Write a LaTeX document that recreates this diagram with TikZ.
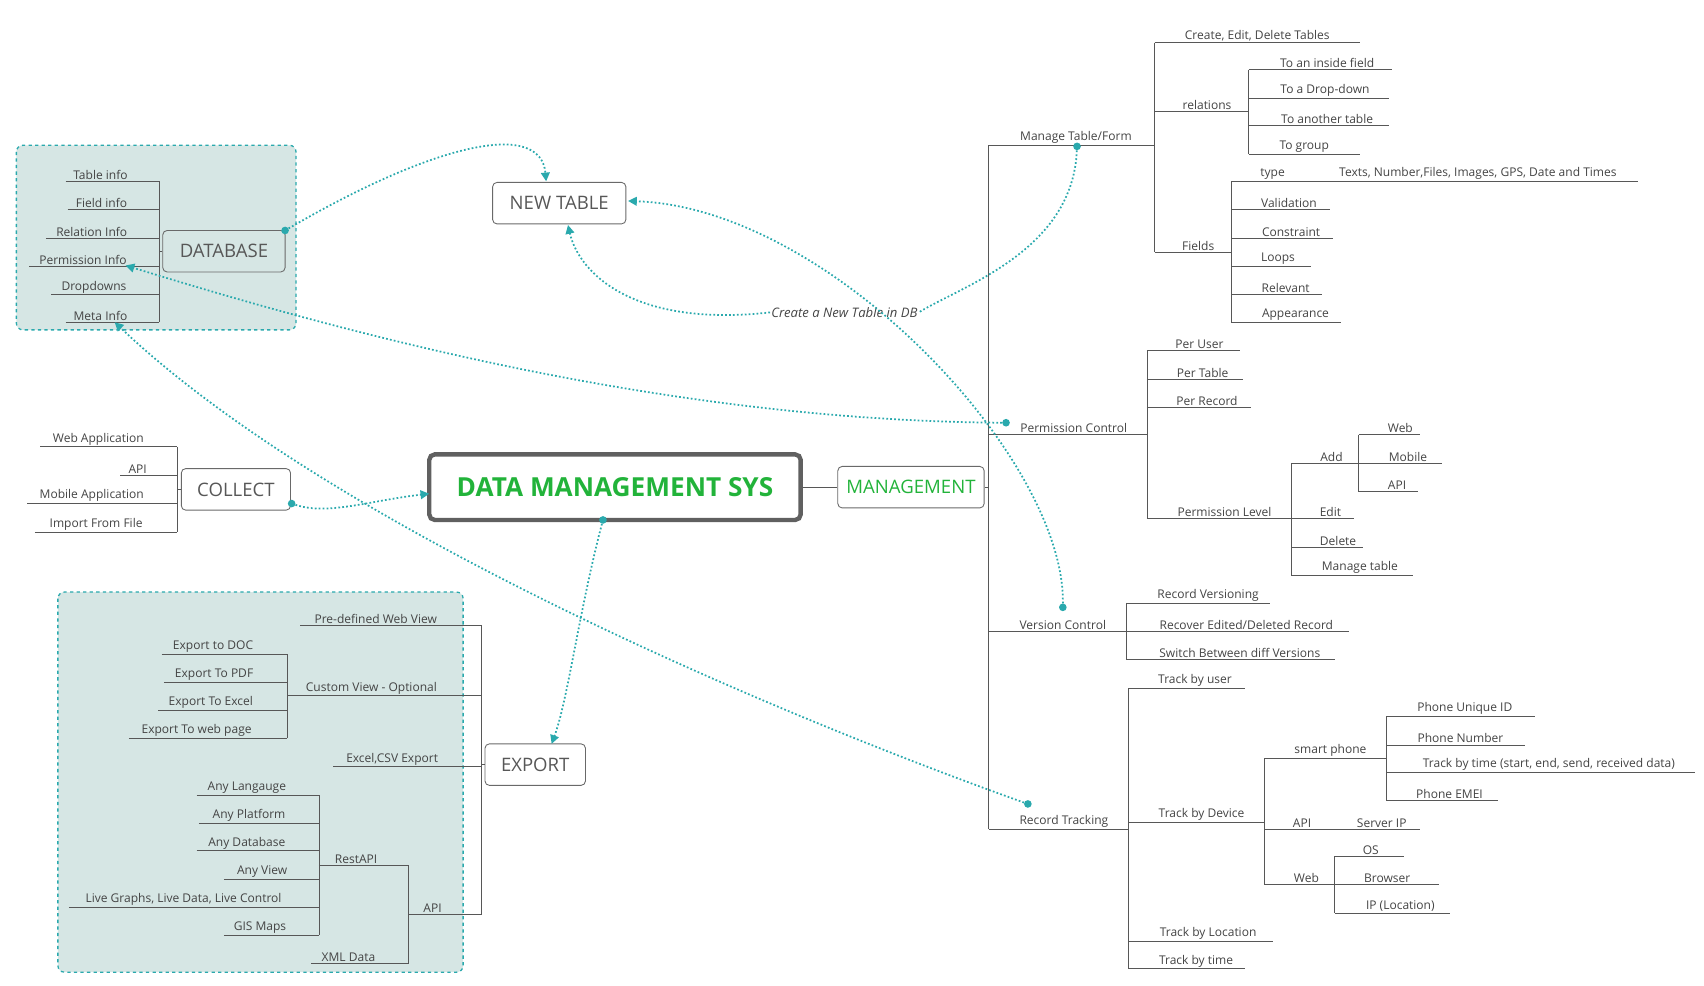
\documentclass[tikz,border=0pt]{standalone}
\usepackage{fontspec}
\setmainfont{Open Sans}
\usetikzlibrary{arrows.meta}
\definecolor{teal1}{HTML}{2AA9AD}
\definecolor{groupfill}{HTML}{D6E6E4}
\definecolor{ink}{HTML}{444444}
\definecolor{titlegreen}{HTML}{22B33A}
\tikzset{
  leaf/.style={anchor=south,inner sep=1.5pt,text=ink,font=\fontsize{11}{13}\selectfont},
  branch/.style={draw=ink!90,line width=0.8pt},
  topic/.style={draw=ink!80,rounded corners=4pt,line width=0.8pt,text=ink!90,
    font=\fontsize{17}{20}\selectfont,minimum height=38pt},
  group/.style={draw=teal1,fill=groupfill,dashed,line width=1.2pt,rounded corners=6pt},
  link/.style={draw=teal1,line width=1.6pt,dotted,-{Triangle[length=8pt,width=8pt]}},
  dot/.style={circle,fill=teal1,inner sep=0pt,minimum size=7pt}
}
% name, text x, underline y, line from, line to, text
\newcommand\tleaf[6]{\node[leaf] (#1) at (#2,#3) {#6}; \draw[branch] (#4,#3) -- (#5,#3);}
\newcommand\vbar[3]{\draw[branch] (#1,#2) -- (#1,#3);}
\begin{document}
\begin{tikzpicture}[x=1pt,y=-1pt]
\useasboundingbox (0,0) rectangle (1560,902);
% groups
\path[group] (15,133) rectangle (271,302);
\path[group] (53,542) rectangle (424,890);

% central and topics
\node[draw=ink!85,line width=4pt,rounded corners=5pt,minimum width=340pt,minimum height=60pt,
  text=titlegreen,font=\fontsize{24}{28}\selectfont\bfseries] (core) at (563,446) {DATA MANAGEMENT SYS};
\node[topic,minimum width=134pt,text=titlegreen] (mgmt) at (834,446) {MANAGEMENT};
\node[topic,minimum width=112pt] (db) at (205,230) {DATABASE};
\node[topic,minimum width=122pt] (newtable) at (512,186) {NEW TABLE};
\node[topic,minimum width=100pt] (collect) at (216,448) {COLLECT};
\node[topic,minimum width=92pt] (export) at (490,700) {EXPORT};
\draw[branch] (core.east) -- (mgmt.west);
\draw[branch] (mgmt.east) -- (905,446);

% MANAGEMENT tree
\vbar{905}{133}{759}
\tleaf{mtf}{985}{133}{905}{1057}{Manage Table/Form}
\tleaf{pc}{983}{398}{905}{1050}{Permission Control}
\tleaf{vc}{973}{578}{905}{1031}{Version Control}
\tleaf{rt}{974}{759}{905}{1033}{Record Tracking}
\vbar{1057}{39}{231}
\tleaf{cedt}{1151}{39}{1057}{1245}{Create, Edit, Delete Tables}
\tleaf{rel}{1105}{102}{1057}{1143}{relations}
\tleaf{fields}{1097}{231}{1057}{1127}{Fields}
\vbar{1143}{64}{141}
\tleaf{r1}{1215}{64}{1143}{1274}{To an inside field}
\tleaf{r2}{1213}{90}{1143}{1272}{To a Drop-down}
\tleaf{r3}{1215}{115}{1143}{1272}{To another table}
\tleaf{r4}{1194}{141}{1143}{1245}{To group}
\vbar{1127}{166}{295}
\tleaf{type}{1165}{166}{1127}{1500}{type}
\node[leaf] (types) at (1353,166) {Texts, Number,Files, Images, GPS, Date and Times};
\tleaf{f1}{1180}{192}{1127}{1218}{Validation}
\tleaf{f2}{1182}{218}{1127}{1220}{Constraint}
\tleaf{f3}{1170}{244}{1127}{1200}{Loops}
\tleaf{f4}{1177}{270}{1127}{1210}{Relevant}
\tleaf{f5}{1186}{295}{1127}{1228}{Appearance}
\vbar{1050}{321}{475}
\tleaf{p1}{1098}{321}{1050}{1135}{Per User}
\tleaf{p2}{1101}{347}{1050}{1138}{Per Table}
\tleaf{p3}{1105}{373}{1050}{1145}{Per Record}
\tleaf{plevel}{1121}{475}{1050}{1182}{Permission Level}
\vbar{1182}{424}{527}
\tleaf{add}{1219}{424}{1182}{1244}{Add}
\tleaf{edit}{1218}{475}{1182}{1240}{Edit}
\tleaf{del}{1225}{501}{1182}{1248}{Delete}
\tleaf{mt}{1245}{527}{1182}{1294}{Manage table}
\vbar{1244}{398}{450}
\tleaf{a1}{1282}{398}{1244}{1300}{Web}
\tleaf{a2}{1289}{424}{1244}{1320}{Mobile}
\tleaf{a3}{1279}{450}{1244}{1298}{API}
\vbar{1031}{552}{604}
\tleaf{v1}{1106}{552}{1031}{1163}{Record Versioning}
\tleaf{v2}{1141}{578}{1031}{1235}{Recover Edited/Deleted Record}
\tleaf{v3}{1135}{604}{1031}{1222}{Switch Between diff Versions}
\vbar{1033}{630}{887}
\tleaf{t1}{1094}{630}{1033}{1140}{Track by user}
\tleaf{tdev}{1100}{753}{1033}{1158}{Track by Device}
\tleaf{t3}{1106}{862}{1033}{1165}{Track by Location}
\tleaf{t4}{1095}{887}{1033}{1140}{Track by time}
\vbar{1158}{694}{810}
\tleaf{sp}{1218}{694}{1158}{1269}{smart phone}
\tleaf{dapi}{1192}{759}{1158}{1300}{API}
\node[leaf] (sip) at (1265,759) {Server IP};
\tleaf{dweb}{1196}{810}{1158}{1222}{Web}
\vbar{1269}{656}{733}
\tleaf{s1}{1341}{656}{1269}{1405}{Phone Unique ID}
\tleaf{s2}{1337}{682}{1269}{1396}{Phone Number}
\tleaf{s3}{1418}{707}{1269}{1552}{Track by time (start, end, send, received data)}
\tleaf{s4}{1327}{733}{1269}{1371}{Phone EMEI}
\vbar{1222}{784}{836}
\tleaf{w1}{1255}{784}{1222}{1285}{OS}
\tleaf{w2}{1270}{810}{1222}{1317}{Browser}
\tleaf{w3}{1282}{836}{1222}{1327}{IP (Location)}

% DATABASE tree
\draw[branch] (db.west) -- (146,230);
\vbar{146}{166}{295}
\tleaf{d1}{92}{166}{60}{146}{Table info}
\tleaf{d2}{93}{192}{62}{146}{Field info}
\tleaf{d3}{84}{218}{42}{146}{Relation Info}
\tleaf{d4}{76}{244}{27}{146}{Permission Info}
\tleaf{d5}{86}{270}{47}{146}{Dropdowns}
\tleaf{d6}{92}{295}{60}{146}{Meta Info}

% COLLECT tree
\draw[branch] (collect.west) -- (162,448);
\vbar{162}{409}{487}
\tleaf{c1}{90}{409}{37}{162}{Web Application}
\tleaf{c2}{126}{435}{110}{162}{API}
\tleaf{c3}{84}{461}{25}{162}{Mobile Application}
\tleaf{c4}{88}{487}{32}{162}{Import From File}

% EXPORT tree
\draw[branch] (export.west) -- (441,700);
\vbar{441}{573}{837}
\tleaf{e1}{344}{573}{275}{441}{Pre-defined Web View}
\tleaf{cv}{340}{637}{263}{441}{Custom View - Optional}
\tleaf{e3}{359}{702}{305}{441}{Excel,CSV Export}
\tleaf{eapi}{396}{837}{374}{441}{API}
\vbar{263}{599}{676}
\tleaf{x1}{195}{599}{148}{263}{Export to DOC}
\tleaf{x2}{196}{625}{150}{263}{Export To PDF}
\tleaf{x3}{193}{650}{145}{263}{Export To Excel}
\tleaf{x4}{180}{676}{118}{263}{Export To web page}
\vbar{374}{792}{882}
\tleaf{rest}{326}{792}{292}{374}{RestAPI}
\tleaf{xml}{319}{882}{285}{374}{XML Data}
\vbar{292}{728}{856}
\tleaf{k1}{226}{728}{180}{292}{Any Langauge}
\tleaf{k2}{228}{754}{182}{292}{Any Platform}
\tleaf{k3}{226}{779}{180}{292}{Any Database}
\tleaf{k4}{240}{805}{205}{292}{Any View}
\tleaf{k5}{168}{831}{63}{292}{Live Graphs, Live Data, Live Control}
\tleaf{k6}{238}{856}{205}{292}{GIS Maps}

% relationship links
\node[dot] (dbdot) at (261,211) {};
\node[dot] (mtfdot) at (986,134) {};
\node[dot] (pcdot) at (921,387) {};
\node[dot] (vcdot) at (973,556) {};
\node[dot] (rtdot) at (941,736) {};
\node[dot] (coldot) at (267,461) {};
\node[dot] (coredot) at (552,476) {};
\node[text=ink,font=\fontsize{12}{14}\selectfont\itshape,inner sep=1pt] (linklabel) at (773,286) {Create a New Table in DB};
\coordinate (ntop) at (500,166);
\coordinate (nbot) at (520,206);
\coordinate (nright) at (575,184);
\coordinate (pinfo) at (115,243);
\coordinate (minfo) at (105,295);
\coordinate (coreleft) at (393,452);
\coordinate (exptop) at (505,681);
\draw[link] (dbdot) .. controls (400,130) and (495,110) .. (ntop);
\draw[link,-] (mtfdot) .. controls (982,230) and (880,262) .. (linklabel.east);
\draw[link] (linklabel.west) .. controls (580,300) and (530,250) .. (nbot);
\draw[link] (vcdot) .. controls (975,420) and (760,190) .. (nright);
\draw[link] (pcdot) .. controls (600,385) and (300,300) .. (pinfo);
\draw[link] (rtdot) .. controls (700,650) and (300,480) .. (minfo);
\draw[link] (coldot) .. controls (300,472) and (340,458) .. (coreleft);
\draw[link] (coredot) .. controls (530,560) and (520,640) .. (exptop);
\end{tikzpicture}
\end{document}
